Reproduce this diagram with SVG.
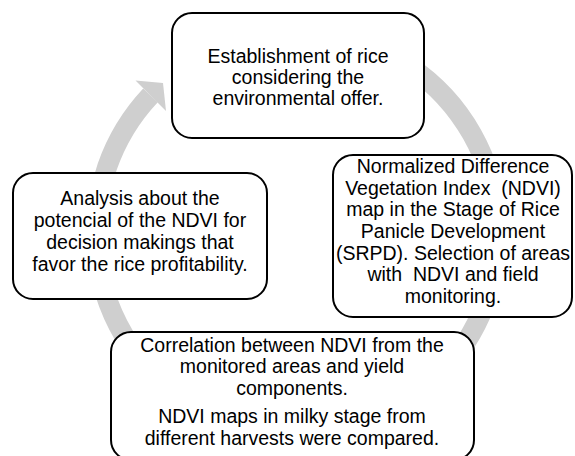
<svg xmlns="http://www.w3.org/2000/svg" width="575" height="456" viewBox="0 0 575 456">
<style>
.box{fill:#fff;stroke:#000;stroke-width:2}
.t{font-family:"Liberation Sans",Arial,sans-serif;font-size:19.5px;fill:#000;text-anchor:middle}
.arc{fill:none;stroke:#cfcfcf;stroke-width:20}
.head{fill:#cfcfcf}
</style>
<rect width="575" height="456" fill="#fff"/>
<g id="connectors">
<path class="arc" d="M 331.9 35.1 A 201 201 0 1 1 150.5 95.4"/>
<polygon class="head" points="135.5,80.5 163,83 166,111"/>
</g>
<g id="node1">
<rect class="box" x="172" y="13" width="252" height="125" rx="20"/>
<text class="t" x="298" y="63">Establishment of rice</text>
<text class="t" x="298" y="84">considering the</text>
<text class="t" x="298" y="105">environmental offer.</text>
</g>
<g id="node2">
<rect class="box" x="333" y="155" width="239" height="162" rx="20"/>
<text class="t" x="453" y="173">Normalized Difference</text>
<text class="t" x="453" y="195" xml:space="preserve">Vegetation Index  (NDVI)</text>
<text class="t" x="453" y="216">map in the Stage of Rice</text>
<text class="t" x="453" y="238">Panicle Development</text>
<text class="t" x="453" y="260">(SRPD). Selection of areas</text>
<text class="t" x="453" y="281" xml:space="preserve">with  NDVI and field</text>
<text class="t" x="453" y="303">monitoring.</text>
</g>
<g id="node3">
<rect class="box" x="111" y="332" width="363" height="128" rx="20"/>
<text class="t" x="292" y="352">Correlation between NDVI from the</text>
<text class="t" x="292" y="373">monitored areas and yield</text>
<text class="t" x="292" y="395">components.</text>
<text class="t" x="292" y="423">NDVI maps in milky stage from</text>
<text class="t" x="292" y="445">different harvests were compared.</text>
</g>
<g id="node4">
<rect class="box" x="13" y="173" width="254" height="126" rx="20"/>
<text class="t" x="140" y="205">Analysis about the</text>
<text class="t" x="140" y="227">potencial of the NDVI for</text>
<text class="t" x="140" y="249">decision makings that</text>
<text class="t" x="140" y="271">favor the rice profitability.</text>
</g>
</svg>
